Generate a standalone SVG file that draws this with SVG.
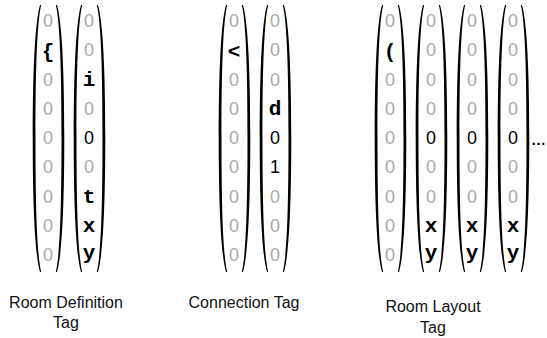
<svg xmlns="http://www.w3.org/2000/svg" xmlns:xlink="http://www.w3.org/1999/xlink" width="547" height="338" viewBox="0 0 547 338">
<style>
.g{font-family:"Liberation Sans",Arial,sans-serif;font-size:18px;fill:#a9a9a9;text-anchor:middle}
.k{font-family:"Liberation Sans",Arial,sans-serif;font-size:18px;fill:#000;text-anchor:middle}
.m{font-family:"Liberation Mono","Courier New",monospace;font-size:21px;font-weight:bold;fill:#000;text-anchor:middle}
.lbl{font-family:"Liberation Sans",Arial,sans-serif;font-size:16px;fill:#111;text-anchor:middle}
.p{fill:#000}
</style>
<defs>
<g id="br">
<path class="p" d="M-8,5 C-13,22 -15.3,70 -15.3,138.5 C-15.3,207 -13,255 -8,272 L-6.8,272 C-11,255 -12.5,207 -12.5,138.5 C-12.5,70 -11,22 -6.8,5 Z"/>
<path class="p" d="M9,5 C14,22 16.3,70 16.3,138.5 C16.3,207 14,255 9,272 L7.8,272 C12,255 13.5,207 13.5,138.5 C13.5,70 12,22 7.8,5 Z"/>
</g>
</defs>
<g id="roomdef">
<g id="rd-col1" transform="translate(48,0)">
<use xlink:href="#br"/>
<text class="g" x="0" y="27">0</text>
<text class="m" x="0" y="58">{</text>
<text class="g" x="0" y="85.5">0</text>
<text class="g" x="0" y="114.75">0</text>
<text class="g" x="0" y="144">0</text>
<text class="g" x="0" y="173.25">0</text>
<text class="g" x="0" y="202.5">0</text>
<text class="g" x="0" y="231.75">0</text>
<text class="g" x="0" y="261">0</text>
</g>
<g id="rd-col2" transform="translate(89,0)">
<use xlink:href="#br"/>
<text class="g" x="0" y="27">0</text>
<text class="g" x="0" y="56.25">0</text>
<text class="m" x="0" y="85.5">i</text>
<text class="g" x="0" y="114.75">0</text>
<text class="k" x="0" y="144">0</text>
<text class="g" x="0" y="173.25">0</text>
<text class="m" x="0" y="202.5">t</text>
<text class="m" x="0" y="231.75">x</text>
<text class="m" x="0" y="258.5">y</text>
</g>
<text class="lbl" x="66" y="308">Room Definition</text>
<text class="lbl" x="66" y="328">Tag</text>
</g>
<g id="connection">
<g id="cn-col1" transform="translate(234,0)">
<use xlink:href="#br"/>
<text class="g" x="0" y="27">0</text>
<text class="m" x="0" y="58">&lt;</text>
<text class="g" x="0" y="85.5">0</text>
<text class="g" x="0" y="114.75">0</text>
<text class="g" x="0" y="144">0</text>
<text class="g" x="0" y="173.25">0</text>
<text class="g" x="0" y="202.5">0</text>
<text class="g" x="0" y="231.75">0</text>
<text class="g" x="0" y="261">0</text>
</g>
<g id="cn-col2" transform="translate(275,0)">
<use xlink:href="#br"/>
<text class="g" x="0" y="27">0</text>
<text class="g" x="0" y="56.25">0</text>
<text class="g" x="0" y="85.5">0</text>
<text class="m" x="0" y="114.75">d</text>
<text class="k" x="0" y="144">0</text>
<text class="k" x="0" y="173.25">1</text>
<text class="g" x="0" y="202.5">0</text>
<text class="g" x="0" y="231.75">0</text>
<text class="g" x="0" y="261">0</text>
</g>
<text class="lbl" x="244" y="308">Connection Tag</text>
</g>
<g id="layout">
<g id="rl-col1" transform="translate(390,0)">
<use xlink:href="#br"/>
<text class="g" x="0" y="27">0</text>
<text class="m" x="0" y="58">(</text>
<text class="g" x="0" y="85.5">0</text>
<text class="g" x="0" y="114.75">0</text>
<text class="g" x="0" y="144">0</text>
<text class="g" x="0" y="173.25">0</text>
<text class="g" x="0" y="202.5">0</text>
<text class="g" x="0" y="231.75">0</text>
<text class="g" x="0" y="261">0</text>
</g>
<g id="rl-col2" transform="translate(431,0)">
<use xlink:href="#br"/>
<text class="g" x="0" y="27">0</text>
<text class="g" x="0" y="56.25">0</text>
<text class="g" x="0" y="85.5">0</text>
<text class="g" x="0" y="114.75">0</text>
<text class="k" x="0" y="144">0</text>
<text class="g" x="0" y="173.25">0</text>
<text class="g" x="0" y="202.5">0</text>
<text class="m" x="0" y="231.75">x</text>
<text class="m" x="0" y="258.5">y</text>
</g>
<g id="rl-col3" transform="translate(472,0)">
<use xlink:href="#br"/>
<text class="g" x="0" y="27">0</text>
<text class="g" x="0" y="56.25">0</text>
<text class="g" x="0" y="85.5">0</text>
<text class="g" x="0" y="114.75">0</text>
<text class="k" x="0" y="144">0</text>
<text class="g" x="0" y="173.25">0</text>
<text class="g" x="0" y="202.5">0</text>
<text class="m" x="0" y="231.75">x</text>
<text class="m" x="0" y="258.5">y</text>
</g>
<g id="rl-col4" transform="translate(513,0)">
<use xlink:href="#br"/>
<text class="g" x="0" y="27">0</text>
<text class="g" x="0" y="56.25">0</text>
<text class="g" x="0" y="85.5">0</text>
<text class="g" x="0" y="114.75">0</text>
<text class="k" x="0" y="144">0</text>
<text class="g" x="0" y="173.25">0</text>
<text class="g" x="0" y="202.5">0</text>
<text class="m" x="0" y="231.75">x</text>
<text class="m" x="0" y="258.5">y</text>
</g>
<text class="k" x="546" y="145" style="font-weight:bold;font-size:15px;text-anchor:end">…</text>
<text class="lbl" x="433" y="312">Room Layout</text>
<text class="lbl" x="433" y="333">Tag</text>
</g>
<g id="connectors"/>
</svg>
